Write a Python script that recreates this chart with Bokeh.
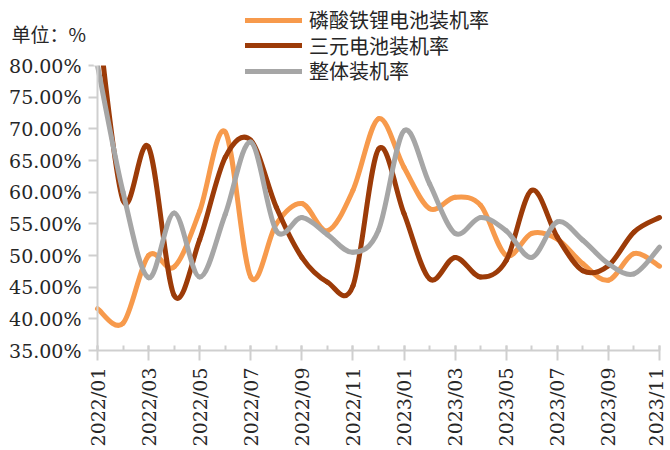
import math
from bokeh.plotting import figure
from bokeh.models import (Range1d, FixedTicker, PrintfTickFormatter, Legend, LegendItem, Label,
                          ColumnDataSource, BoxAnnotation)
from bokeh.embed import file_html
from bokeh.resources import INLINE

months = ["2022/01", "2022/02", "2022/03", "2022/04", "2022/05", "2022/06", "2022/07", "2022/08",
          "2022/09", "2022/10", "2022/11", "2022/12", "2023/01", "2023/02", "2023/03", "2023/04",
          "2023/05", "2023/06", "2023/07", "2023/08", "2023/09", "2023/10", "2023/11"]
lfp = [41.6, 39.3, 50.0, 48.2, 57.0, 69.5, 46.6, 55.0, 58.2, 53.9, 60.3, 71.6,
       63.9, 57.4, 59.2, 57.9, 50.0, 53.5, 52.6, 48.7, 46.1, 50.3, 48.3]
ncm = [88.0, 58.7, 67.1, 43.7, 52.5, 65.5, 68.2, 57.6, 49.7, 45.8, 45.2, 66.8,
       56.6, 46.3, 49.7, 46.6, 49.2, 60.3, 52.9, 47.6, 48.4, 53.7, 56.0]
total = [80.0, 60.0, 46.5, 56.7, 46.6, 56.5, 67.9, 53.9, 56.0, 53.3, 50.5, 54.0,
         69.7, 61.3, 53.5, 56.0, 53.9, 49.7, 55.3, 52.4, 48.7, 47.1, 51.3]
names = ["磷酸铁锂电池装机率", "三元电池装机率", "整体装机率"]
colors = ["#F79A4C", "#9C3B08", "#A6A6A6"]
y_ticks = [35, 40, 45, 50, 55, 60, 65, 70, 75, 80]
unit_text = "单位：%"

xs = list(range(len(months)))


def smooth_segments(x, y):
    # Bezier control points for a smoothed line through the data points
    n = len(x)
    d = dict(x0=[], y0=[], x1=[], y1=[], cx0=[], cy0=[], cx1=[], cy1=[])
    for i in range(n - 1):
        p0 = (x[i - 1], y[i - 1]) if i > 0 else (x[i], y[i])
        p1 = (x[i], y[i])
        p2 = (x[i + 1], y[i + 1])
        p3 = (x[i + 2], y[i + 2]) if i + 2 < n else (x[i + 1], y[i + 1])
        d["x0"].append(p1[0]); d["y0"].append(p1[1])
        d["x1"].append(p2[0]); d["y1"].append(p2[1])
        d["cx0"].append(p1[0] + (p2[0] - p0[0]) / 6.0)
        d["cy0"].append(p1[1] + (p2[1] - p0[1]) / 6.0)
        d["cx1"].append(p2[0] - (p3[0] - p1[0]) / 6.0)
        d["cy1"].append(p2[1] - (p3[1] - p1[1]) / 6.0)
    return ColumnDataSource(d)


W, H = 666, 448
ax_left_px, ax_right_px = 97, 659      # where 2022/01 and 2023/11 sit
ax_top_px, ax_bottom_px = 65, 350      # where 80% and 35% sit
n_last = len(months) - 1
px_per_month = (ax_right_px - ax_left_px) / n_last
px_per_unit = (ax_bottom_px - ax_top_px) / (max(y_ticks) - min(y_ticks))

p = figure(width=W, height=H, output_backend="svg", toolbar_location=None,
           x_range=Range1d(-ax_left_px / px_per_month, n_last + (W - ax_right_px) / px_per_month),
           y_range=Range1d(min(y_ticks) - (H - ax_bottom_px) / px_per_unit,
                           max(y_ticks) + ax_top_px / px_per_unit),
           min_border_left=0, min_border_right=0, min_border_top=0, min_border_bottom=0)
p.outline_line_color = None
p.xgrid.visible = False
p.ygrid.visible = False
p.background_fill_color = "white"
p.border_fill_color = "white"

renderers = []
for series, col in zip([lfp, ncm, total], colors):
    src = smooth_segments(xs, series)
    r = p.bezier(x0="x0", y0="y0", x1="x1", y1="y1", cx0="cx0", cy0="cy0", cx1="cx1", cy1="cy1",
                 source=src, line_color=col, line_width=5, line_cap="round")
    renderers.append(r)

# plot area ends at 80%: hide anything above it
p.add_layout(BoxAnnotation(bottom=max(y_ticks), left=-0.15, fill_color="white", fill_alpha=1.0,
                           line_color=None))

axis_col = "#CFCFCF"
text_col = "#262626"

xa = p.xaxis[0]
xa.fixed_location = min(y_ticks)
xa.bounds = (0, n_last)
xa.ticker = FixedTicker(ticks=xs[::2], minor_ticks=xs)
xa.major_label_overrides = {i: months[i] for i in xs}
xa.major_label_orientation = math.pi / 2
xa.axis_line_color = axis_col
xa.axis_line_width = 2
xa.major_tick_line_color = axis_col
xa.minor_tick_line_color = axis_col
xa.major_tick_line_width = 2
xa.minor_tick_line_width = 2
xa.major_tick_in = 5
xa.major_tick_out = 10
xa.minor_tick_in = 5
xa.minor_tick_out = 0
xa.major_label_standoff = 7
xa.major_label_text_font = "DejaVu Serif"
xa.major_label_text_font_size = "19px"
xa.major_label_text_color = text_col

ya = p.yaxis[0]
ya.fixed_location = 0
ya.bounds = (min(y_ticks), max(y_ticks))
ya.ticker = FixedTicker(ticks=y_ticks)
ya.formatter = PrintfTickFormatter(format="%.2f%%")
ya.axis_line_color = axis_col
ya.axis_line_width = 2
ya.major_tick_line_color = axis_col
ya.major_tick_line_width = 2
ya.major_tick_in = 0
ya.major_tick_out = 9
ya.minor_tick_line_color = None
ya.major_label_standoff = 7
ya.major_label_text_font = "DejaVu Serif"
ya.major_label_text_font_size = "19px"
ya.major_label_text_color = text_col

unit = Label(x=11, y=H - 33, x_units="screen", y_units="screen", text=unit_text,
             text_font="Noto Sans CJK SC", text_font_size="19px", text_color=text_col,
             text_baseline="middle")
p.add_layout(unit)

# one legend box per entry, stacked at the reference row positions
row_bottoms = [34, 59.5, 85]
for n, r, b in zip(names, renderers, row_bottoms):
    lg = Legend(items=[LegendItem(label=n, renderers=[r])],
                location=(245, H - b), orientation="vertical",
                label_text_font="Noto Sans CJK SC", label_text_font_size="20px",
                label_text_color=text_col, glyph_width=57, glyph_height=20, label_height=20,
                label_standoff=7, spacing=0, padding=0, margin=0,
                border_line_color=None, background_fill_alpha=0)
    p.add_layout(lg, "center")

open("out.html", "w").write(file_html(p, INLINE))
